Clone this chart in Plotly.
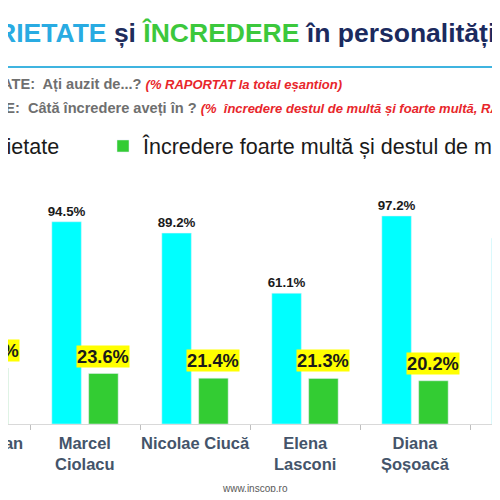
import plotly.graph_objects as go

# ---------------- data ----------------
categories = ["Nicușor Dan", "Marcel Ciolacu", "Nicolae Ciucă",
              "Elena Lasconi", "Diana Șoșoacă", "George Simion"]
category_labels = ["Nicușor Dan", "Marcel<br>Ciolacu", "Nicolae Ciucă",
                   "Elena<br>Lasconi", "Diana<br>Șoșoacă", "George<br>Simion"]
notorietate = [92.0, 94.5, 89.2, 61.1, 97.2, 86.8]
incredere = [26.2, 23.6, 21.4, 21.3, 20.2, 18.0]

series_names = ["Notorietate", "Încredere foarte multă și destul de multă"]

title_parts = ["NOTORIETATE", "și", "ÎNCREDERE", "în personalități politice"]
sub1_gray = "NOTORIETATE:  Ați auzit de...? "
sub1_red = "(% RAPORTAT la total eșantion)"
sub2_gray = "ÎNCREDERE:  Câtă încredere aveți în ? "
sub2_red = "(%  încredere destul de multă și foarte multă, RAPORTAT la total eșantion)"
source_text = "www.inscop.ro"

# ---------------- layout constants ----------------
PAGE_OFFSET = 8                 # browser body margin around the figure
W, H = 492, 484
AXIS_Y = 424                    # screen row of the category axis line
M_TOP = 210 - PAGE_OFFSET
M_BOT = H - (AXIS_Y - PAGE_OFFSET)
X_RANGE = [0.30, 4.7727]        # visible window of the category axis (chart is cropped)
Y_RANGE = [0, 100]
BARGAP, BARGROUPGAP = 0.33, 0.2
CYAN, GREEN = "#00ffff", "#33cc33"
FONT = "Arial, Liberation Sans, sans-serif"

plot_h = H - M_TOP - M_BOT


def py(screen_y):
    """screen pixel row -> paper y"""
    return (H - M_BOT - (screen_y - PAGE_OFFSET)) / plot_h


def px_x(screen_x):
    return (screen_x - PAGE_OFFSET) / W


slot = (1 - BARGAP) / 2
offsets = [-slot / 2, slot / 2]


def paper_x(idx, off):
    return (idx + off - X_RANGE[0]) / (X_RANGE[1] - X_RANGE[0])


fig = go.Figure()
fig.add_trace(go.Bar(
    x=categories, y=notorietate, name=series_names[0], marker_color=CYAN,
    texttemplate="<b>%{y:.1f}%</b>", textposition="outside",
    textfont=dict(size=13.3, color="#1a1a1a", family=FONT),
    cliponaxis=False, constraintext="none", legend="legend",
))
fig.add_trace(go.Bar(
    x=categories, y=incredere, name=series_names[1], marker_color=GREEN,
    textposition="none", legend="legend2",
))

annotations = []
# green value labels with yellow background
for i, v in enumerate(incredere):
    annotations.append(dict(
        x=paper_x(i, offsets[1]), xref="paper", xanchor="center",
        y=v, yref="y", yanchor="bottom", yshift=6, showarrow=False,
        text=f"<b>{v:.1f}%</b>", bgcolor="#ffff00", borderpad=0,
        font=dict(size=18.3, color="#1a1a1a", family=FONT),
    ))
# category labels
for i, lab in enumerate(category_labels):
    annotations.append(dict(
        x=paper_x(i, 0), xref="paper", xanchor="center", y=0, yref="paper",
        yanchor="top", yshift=-8, showarrow=False, text=f"<b>{lab}</b>",
        font=dict(size=16.5, color="#44546a", family=FONT),
    ))
# title
title_html = (f"<b><span style='color:#29abe2'>{title_parts[0]}</span> "
              f"<span style='color:#1f2d5c'>{title_parts[1]}</span> "
              f"<span style='color:#3cc83c'>{title_parts[2]}</span> "
              f"<span style='color:#1b2a5e'>{title_parts[3]}</span></b>")
annotations.append(dict(
    x=px_x(-81), xref="paper", xanchor="left", y=py(33), yref="paper",
    yanchor="middle", showarrow=False, text=title_html,
    font=dict(size=26.5, family=FONT),
))
# subtitles
for txt_g, txt_r, ypx in [(sub1_gray, sub1_red, 84), (sub2_gray, sub2_red, 107)]:
    annotations.append(dict(
        x=px_x(-74), xref="paper", xanchor="left", y=py(ypx), yref="paper",
        yanchor="middle", showarrow=False,
        text=(f"<b><span style='color:#6f6f6f'>{txt_g}</span>"
              f"<i><span style='color:#e8262b;font-size:13px'>{txt_r}</span></i></b>"),
        font=dict(size=14.6, family=FONT),
    ))
# source
annotations.append(dict(
    x=px_x(255), xref="paper", xanchor="center", y=py(488), yref="paper",
    yanchor="middle", showarrow=False, text=source_text,
    font=dict(size=10, color="#595959", family=FONT),
))

fig.update_layout(
    width=W, height=H,
    margin=dict(l=0, r=0, t=M_TOP, b=M_BOT, autoexpand=False),
    paper_bgcolor="white", plot_bgcolor="white",
    barmode="group", bargap=BARGAP, bargroupgap=BARGROUPGAP,
    font=dict(family=FONT),
    annotations=annotations,
    shapes=[dict(type="line", xref="paper", yref="paper", x0=0, x1=1,
                 y0=py(67), y1=py(67), line=dict(color="#3fb4e0", width=2))],
    legend=dict(orientation="h", x=px_x(-86), xanchor="left", y=py(146),
                yanchor="middle", font=dict(size=21.5, color="#1a1a1a", family=FONT),
                bgcolor="rgba(0,0,0,0)"),
    legend2=dict(orientation="h", x=px_x(103), xanchor="left", y=py(146),
                 yanchor="middle", font=dict(size=21.5, color="#1a1a1a", family=FONT),
                 bgcolor="rgba(0,0,0,0)"),
    showlegend=True,
)
fig.update_xaxes(type="category", range=X_RANGE, showticklabels=False,
                 showline=True, linecolor="#d9d9d9", linewidth=1,
                 ticks="outside", tickson="boundaries", ticklen=5,
                 tickcolor="#bfbfbf", showgrid=False, zeroline=False)
fig.update_yaxes(range=Y_RANGE, showticklabels=False, showgrid=False,
                 zeroline=False, showline=False)

fig.write_html("out.html")
